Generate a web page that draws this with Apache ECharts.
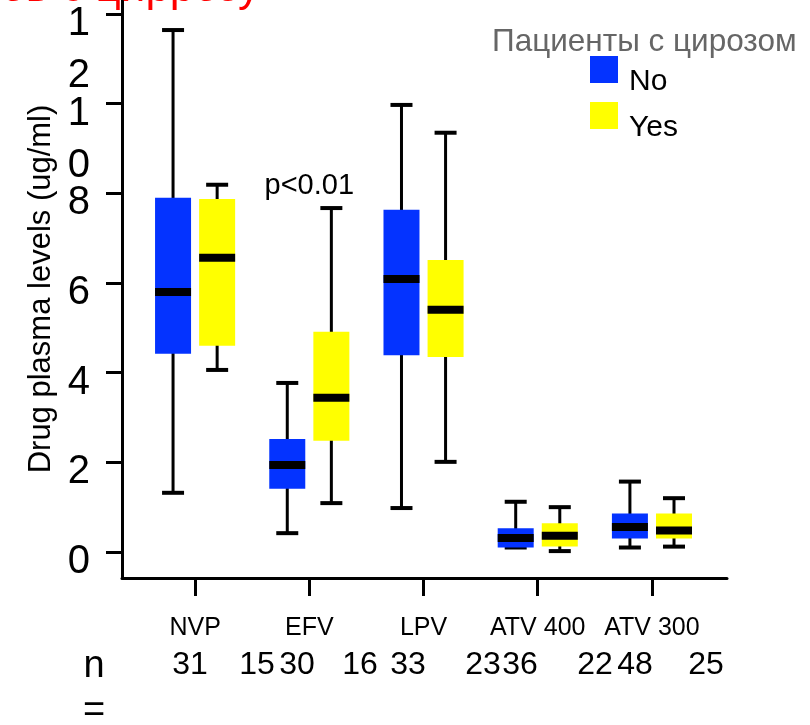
<!DOCTYPE html>
<html><head><meta charset="utf-8">
<script src="https://cdn.jsdelivr.net/npm/echarts@6/dist/echarts.min.js"></script>
<style>html,body{margin:0;padding:0;background:#fff}#c{width:810px;height:725px}</style>
</head><body><div id="c"></div>
<script>
const chartTitle = 'Концентрации препаратов у пациентов с циррозу';
const legendTitle = 'Пациенты с цирозом';
const yAxisName = 'Drug plasma levels (ug/ml)';
const categories = ['NVP', 'EFV', 'LPV', 'ATV 400', 'ATV 300'];
const groupNames = ['No', 'Yes'];
// [lower whisker, Q1, median, Q3, upper whisker]
const noCirrhosis = [
  [1.32, 4.42, 5.80, 7.90, 11.64],
  [0.42, 1.41, 1.94, 2.52, 3.77],
  [0.98, 4.39, 6.09, 7.63, 9.97],
  [0.10, 0.10, 0.31, 0.53, 1.12],
  [0.10, 0.30, 0.56, 0.86, 1.57]
];
const withCirrhosis = [
  [4.06, 4.60, 6.56, 7.87, 8.19],
  [1.09, 2.48, 3.44, 4.91, 7.67],
  [2.01, 4.35, 5.40, 6.51, 9.35],
  [0.02, 0.12, 0.36, 0.64, 1.00],
  [0.12, 0.30, 0.48, 0.86, 1.20]
];
const yTicks = [0, 2, 4, 6, 8, 10, 12];
const xTicks = [1, 2, 3, 4, 5];
const nCounts = ['31', '15', '30', '16', '33', '23', '36', '22', '48', '25'];
const pValueText = 'p<0.01';
const pValueAt = [2, 8.16];

const FONT = '"Liberation Sans", Arial, sans-serif';
const colors = ['#0433FF', '#FFFF00'];
const Y_MAX = 12.31;
// a hidden trailing entry keeps ECharts' max-label overlap check away from the real 12 label
const yTickList = yTicks.concat([Y_MAX]);

function makeRender(offsetUnits, color) {
  return function (params, api) {
    const xi = api.value(0);
    const lo = api.value(1), q1 = api.value(2), med = api.value(3), q3 = api.value(4), hi = api.value(5);
    const cx = api.coord([xi + offsetUnits, 0])[0];
    const y = v => api.coord([xi, v])[1];
    const hw = 18, cw = 11;
    return {
      type: 'group',
      children: [
        { type: 'line', shape: { x1: cx, y1: y(hi), x2: cx, y2: y(lo) }, style: { stroke: '#000', lineWidth: 3 } },
        { type: 'line', shape: { x1: cx - cw, y1: y(hi), x2: cx + cw, y2: y(hi) }, style: { stroke: '#000', lineWidth: 4 } },
        { type: 'line', shape: { x1: cx - cw, y1: y(lo), x2: cx + cw, y2: y(lo) }, style: { stroke: '#000', lineWidth: 4 } },
        { type: 'rect', shape: { x: cx - hw, y: y(q3), width: 2 * hw, height: y(q1) - y(q3) }, style: { fill: color } },
        { type: 'line', shape: { x1: cx - hw, y1: y(med), x2: cx + hw, y2: y(med) }, style: { stroke: '#000', lineWidth: 8 } }
      ]
    };
  };
}

const nXs = [190, 257, 297, 360, 408, 483, 520, 595, 635, 706];
const graphics = nCounts.map((t, i) => ({
  type: 'text', x: nXs[i], y: 665,
  style: { text: t, font: '32px ' + FONT, fill: '#000', textAlign: 'center', textVerticalAlign: 'middle' }
}));
graphics.push({ type: 'text', x: 94, y: 667, style: { text: 'n', font: '38px ' + FONT, fill: '#000', textAlign: 'center', textVerticalAlign: 'middle' } });
graphics.push({ type: 'text', x: 94, y: 712, style: { text: '=', font: '38px ' + FONT, fill: '#000', textAlign: 'center', textVerticalAlign: 'middle' } });

const chart = echarts.init(document.getElementById('c'), null, { renderer: 'canvas' });
chart.setOption({
  animation: false,
  backgroundColor: '#fff',
  title: [
    { text: chartTitle, right: 550, top: -33, padding: 0, textStyle: { color: '#FF0000', fontSize: 44, fontWeight: 'normal', fontFamily: FONT } },
    { text: legendTitle, left: 492, top: 26, padding: 0, textStyle: { color: '#666666', fontSize: 31.5, fontWeight: 'normal', fontFamily: FONT } }
  ],
  legend: {
    data: groupNames, orient: 'vertical', left: 590, top: 49.5, padding: 0,
    itemWidth: 28, itemHeight: 27, itemGap: -1, icon: 'rect',
    formatter: name => '{g| }\n{a|' + name + '}',
    textStyle: {
      fontSize: 30, color: '#000', fontFamily: FONT,
      rich: {
        g: { fontSize: 10, lineHeight: 24, fontFamily: FONT },
        a: { fontSize: 30, lineHeight: 30, fontFamily: FONT, color: '#000', padding: [0, 0, 0, 6] }
      }
    }
  },
  grid: { left: 122, right: 83, top: 0, bottom: 147, containLabel: false },
  xAxis: {
    type: 'value', min: 0.36, max: 5.657,
    splitLine: { show: false },
    axisLine: { show: true, onZero: false, lineStyle: { color: '#000', width: 3 } },
    axisTick: { show: true, customValues: xTicks, length: 18, lineStyle: { color: '#000', width: 3 } },
    axisLabel: { customValues: xTicks, margin: 38, fontSize: 25, color: '#000', fontFamily: FONT, hideOverlap: false,
      formatter: v => categories[Math.round(v) - 1] || '' }
  },
  yAxis: {
    type: 'value', min: -0.58, max: Y_MAX,
    name: yAxisName, nameLocation: 'middle', nameRotate: 90, nameGap: 62,
    nameTextStyle: { fontSize: 31, color: '#000', fontFamily: FONT },
    splitLine: { show: false },
    axisLine: { show: true, onZero: false, lineStyle: { color: '#000', width: 3 } },
    axisTick: { show: true, customValues: yTickList, length: 16, lineStyle: { color: '#000', width: 3 } },
    axisLabel: {
      customValues: yTickList, margin: 32, color: '#000', fontFamily: FONT, fontSize: 40, verticalAlign: 'top',
      hideOverlap: false, showMinLabel: true, showMaxLabel: false,
      formatter: v => {
        if (yTicks.indexOf(v) < 0) return '';
        const s = String(v);
        if (s.length === 2) return '{t|' + s[0] + '}\n{b|' + s[1] + '}';
        return '{s|' + s + '}';
      },
      rich: {
        s: { fontSize: 40, lineHeight: 20, fontFamily: FONT, color: '#000' },
        t: { fontSize: 40, lineHeight: 20, fontFamily: FONT, color: '#000' },
        b: { fontSize: 40, lineHeight: 84, fontFamily: FONT, color: '#000' }
      }
    }
  },
  series: [
    {
      name: groupNames[0], type: 'custom', itemStyle: { color: colors[0] },
      renderItem: makeRender(-0.193, colors[0]),
      encode: { x: 0, y: [1, 2, 3, 4, 5] },
      data: noCirrhosis.map((d, i) => [i + 1].concat(d))
    },
    {
      name: groupNames[1], type: 'custom', itemStyle: { color: colors[1] },
      renderItem: makeRender(0.193, colors[1]),
      encode: { x: 0, y: [1, 2, 3, 4, 5] },
      data: withCirrhosis.map((d, i) => [i + 1].concat(d))
    },
    {
      name: 'p', type: 'scatter', symbolSize: 1, silent: true,
      itemStyle: { opacity: 1, color: 'rgba(0,0,0,0)' },
      data: [pValueAt],
      label: { show: true, position: 'inside', formatter: pValueText, fontSize: 29, color: '#000000',
        opacity: 1, textBorderWidth: 0, fontFamily: FONT }
    }
  ],
  graphic: graphics
});
</script></body></html>
